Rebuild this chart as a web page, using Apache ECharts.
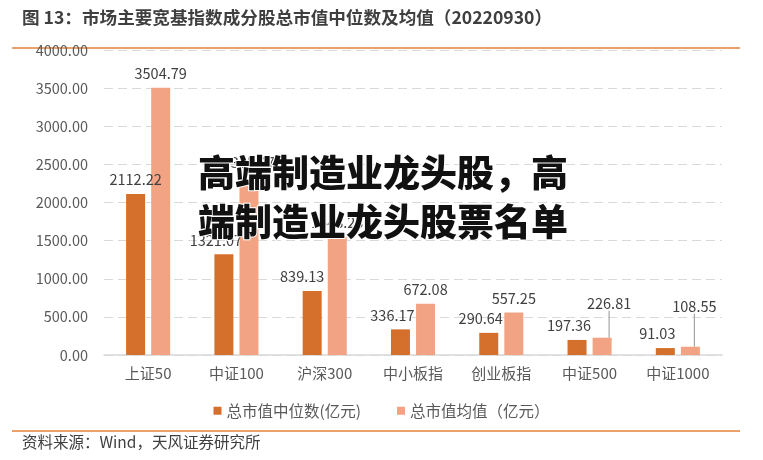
<!DOCTYPE html>
<html><head><meta charset="utf-8">
<script src="https://cdn.jsdelivr.net/npm/echarts@6/dist/echarts.min.js"></script>
<style>html,body{margin:0;padding:0;background:#fff}#c{width:763px;height:460px}</style>
</head><body><div id="c"></div>
<script>
const categories = ['上证50','中证100','沪深300','中小板指','创业板指','中证500','中证1000'];
const medianValues = [2112.22, 1321.07, 839.13, 336.17, 290.64, 197.36, 91.03];
const meanValues = [3504.79, 2335.47, 1548.23, 672.08, 557.25, 226.81, 108.55];
const yTicks = [0, 500, 1000, 1500, 2000, 2500, 3000, 3500, 4000];
const seriesNames = ['总市值中位数(亿元)', '总市值均值（亿元）'];
const titleText = '图 13：市场主要宽基指数成分股总市值中位数及均值（20220930）';
const sourceText = '资料来源：Wind，天风证券研究所';
const overlayLines = ['高端制造业龙头股，高', '端制造业龙头股票名单'];

const FONT = '"Noto Sans CJK SC", "Noto Sans", sans-serif';
const chart = echarts.init(document.getElementById('c'));

// label placement tweaks (Excel-style offset labels)
const medianLabelShift = [[0,0],[-8,0],[-10,0],[-8,0],[-8,0],[-8,0],[-8,0]];
const meanLabelShift = [[0,0],[0,0],[0,0],[0,0],[0,0],[7,-20],[4,-26]];
const leaderLineFrom = 5;

chart.setOption({
  animation: false,
  textStyle: { fontFamily: FONT },
  grid: { left: 104, right: 41, top: 50, bottom: 105 },
  legend: {
    top: 398, left: 'center',
    itemWidth: 8, itemHeight: 8, itemGap: 36,
    icon: 'rect',
    textStyle: { color: '#595959', fontSize: 15.5, fontFamily: FONT },
    data: seriesNames
  },
  xAxis: {
    type: 'category', data: categories,
    axisLine: { lineStyle: { color: '#d9d9d9', width: 1.5 } },
    axisTick: { show: false },
    axisLabel: { color: '#595959', fontSize: 15, margin: 11, fontFamily: FONT }
  },
  yAxis: {
    type: 'value', min: 0, max: 4000, interval: 500,
    axisLine: { show: false }, axisTick: { show: false },
    axisLabel: { color: '#595959', fontSize: 14.5, margin: 16, formatter: v => v.toFixed(2), fontFamily: FONT },
    splitLine: { lineStyle: { color: '#d9d9d9', type: [9, 5], width: 1 } }
  },
  series: [
    {
      name: seriesNames[0], type: 'bar', data: medianValues,
      barWidth: 19, barGap: '32%',
      itemStyle: { color: '#D4702C' },
      label: { show: true, position: 'top', color: '#404040', fontSize: 14.5, distance: 7, formatter: p => p.value.toFixed(2), fontFamily: FONT },
      labelLayout: p => ({ dx: medianLabelShift[p.dataIndex][0], dy: medianLabelShift[p.dataIndex][1] })
    },
    {
      name: seriesNames[1], type: 'bar',
      data: meanValues.map((v, i) => i >= leaderLineFrom ? { value: v, labelLine: { show: true } } : { value: v }),
      barWidth: 19,
      itemStyle: { color: '#F1A384' },
      label: { show: true, position: 'top', color: '#404040', fontSize: 14.5, distance: 7, formatter: p => p.value.toFixed(2), fontFamily: FONT },
      labelLine: { show: false, lineStyle: { color: '#a6a6a6', width: 1.2 } },
      labelLayout: p => ({ dx: meanLabelShift[p.dataIndex][0], dy: meanLabelShift[p.dataIndex][1] })
    }
  ],
  graphic: [
    { type: 'text', left: 22, top: 9, style: { text: titleText, fill: '#3f3f3f', font: 'bold 17.6px ' + FONT } },
    { type: 'line', shape: { x1: 12, y1: 48, x2: 740, y2: 48 }, style: { stroke: '#E3823A', lineWidth: 1.5 } },
    { type: 'line', shape: { x1: 12, y1: 431, x2: 740, y2: 431 }, style: { stroke: '#E3823A', lineWidth: 1.5 } },
    { type: 'text', left: 22, top: 434, style: { text: sourceText, fill: '#404040', font: '15.5px ' + FONT } },
    { type: 'text', left: 197, top: 153, z: 100, style: { text: overlayLines[0], fill: '#111', font: '900 37px ' + FONT, stroke: '#fff', lineWidth: 2 } },
    { type: 'text', left: 197, top: 202, z: 100, style: { text: overlayLines[1], fill: '#111', font: '900 37px ' + FONT, stroke: '#fff', lineWidth: 2 } }
  ]
});
</script></body></html>
